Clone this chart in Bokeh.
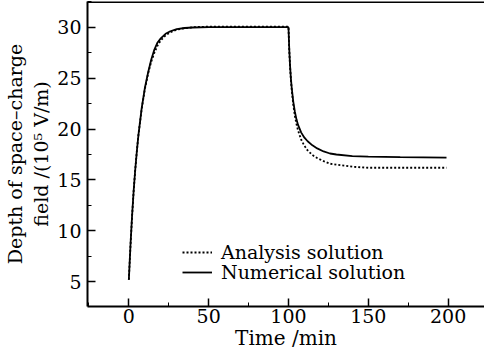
from bokeh.plotting import figure
from bokeh.models import Range1d, SingleIntervalTicker, Legend, LegendItem, Span
from bokeh.embed import file_html
from bokeh.resources import INLINE

time = [0, 1, 2, 3, 4, 5, 6, 8, 10, 12, 14, 16, 18, 20, 23, 26, 30, 35, 40, 50, 60, 80, 100,
        100.5, 101, 101.5, 102, 103, 104, 105, 106, 108, 110, 112, 115, 118, 122, 126, 130,
        140, 150, 170, 199]
numerical = [5.2, 8.5, 11.4, 13.9, 16.0, 17.8, 19.4, 22.0, 24.0, 25.5, 26.8, 27.8, 28.5, 28.9,
             29.35, 29.6, 29.8, 29.92, 29.97, 30.0, 30.0, 30.0, 30.0,
             27.8, 26.2, 25.0, 24.1, 22.7, 21.7, 20.95, 20.4, 19.65, 19.15, 18.8, 18.4, 18.1,
             17.8, 17.6, 17.5, 17.35, 17.3, 17.25, 17.2]
analysis = [5.2, 8.5, 11.4, 13.9, 16.0, 17.8, 19.4, 21.9, 23.9, 25.4, 26.6, 27.5, 28.2, 28.7,
            29.2, 29.5, 29.75, 29.9, 30.0, 30.05, 30.05, 30.05, 30.05,
            27.7, 26.1, 24.9, 23.9, 22.4, 21.3, 20.5, 19.85, 18.95, 18.35, 17.9, 17.45, 17.15,
            16.85, 16.6, 16.5, 16.3, 16.2, 16.2, 16.2]

x_label = "Time /min"
y_label = "Depth of space\u2013charge\nfield /(10\u2075 V/m)"
series_names = ["Analysis solution", "Numerical solution"]

FONT = "DejaVu Serif"
Y0, Y1 = 2.58, 32.52

p = figure(width=484, height=352,
           x_range=Range1d(-25.9, 222.8), y_range=Range1d(Y0, Y1),
           output_backend="svg", toolbar_location=None,
           min_border_left=80, min_border_right=0, min_border_top=1, min_border_bottom=42)
p.grid.visible = False
p.outline_line_color = None
p.background_fill_color = "white"

p.xaxis.ticker = SingleIntervalTicker(interval=50, num_minor_ticks=2)
p.yaxis.ticker = SingleIntervalTicker(interval=5, num_minor_ticks=2)
for ax in (p.xaxis[0], p.yaxis[0]):
    ax.axis_line_width = 2
    ax.axis_line_color = "black"
    ax.major_tick_in = 8
    ax.major_tick_out = 0
    ax.minor_tick_in = 4
    ax.minor_tick_out = 0
    ax.major_tick_line_width = 1.5
    ax.major_tick_line_color = "black"
    ax.minor_tick_line_color = "black"
    ax.major_label_text_font = FONT
    ax.major_label_text_font_size = "19px"
    ax.major_label_text_color = "black"
    ax.axis_label_text_font = FONT
    ax.axis_label_text_font_style = "normal"
    ax.axis_label_text_color = "black"

p.xaxis.axis_label = x_label
p.xaxis.axis_label_text_font_size = "20px"
p.xaxis.major_label_standoff = 2
p.xaxis.axis_label_standoff = 0
p.yaxis.axis_label = y_label
p.yaxis.axis_label_text_font_size = "19px"
p.yaxis.major_label_standoff = 6
p.yaxis.axis_label_standoff = 2

top_line = Span(location=Y1, dimension="width", line_color="black", line_width=3)
p.add_layout(top_line)

r_num = p.line(time, numerical, line_color="black", line_width=1.8)
r_ana = p.line(time, analysis, line_color="black", line_width=1.8, line_dash="2 2")

legend_style = dict(padding=0, margin=0, spacing=0, border_line_color=None,
                    background_fill_alpha=0, glyph_width=30, glyph_height=20,
                    label_height=20, label_standoff=9, label_text_font=FONT,
                    label_text_font_size="19px", label_text_color="black")
leg_a = Legend(items=[LegendItem(label=series_names[0], renderers=[r_ana])],
               location=(95, 43), **legend_style)
leg_n = Legend(items=[LegendItem(label=series_names[1], renderers=[r_num])],
               location=(95, 23), **legend_style)
p.add_layout(leg_a, "center")
p.add_layout(leg_n, "center")

open("out.html", "w").write(file_html(p, INLINE))
